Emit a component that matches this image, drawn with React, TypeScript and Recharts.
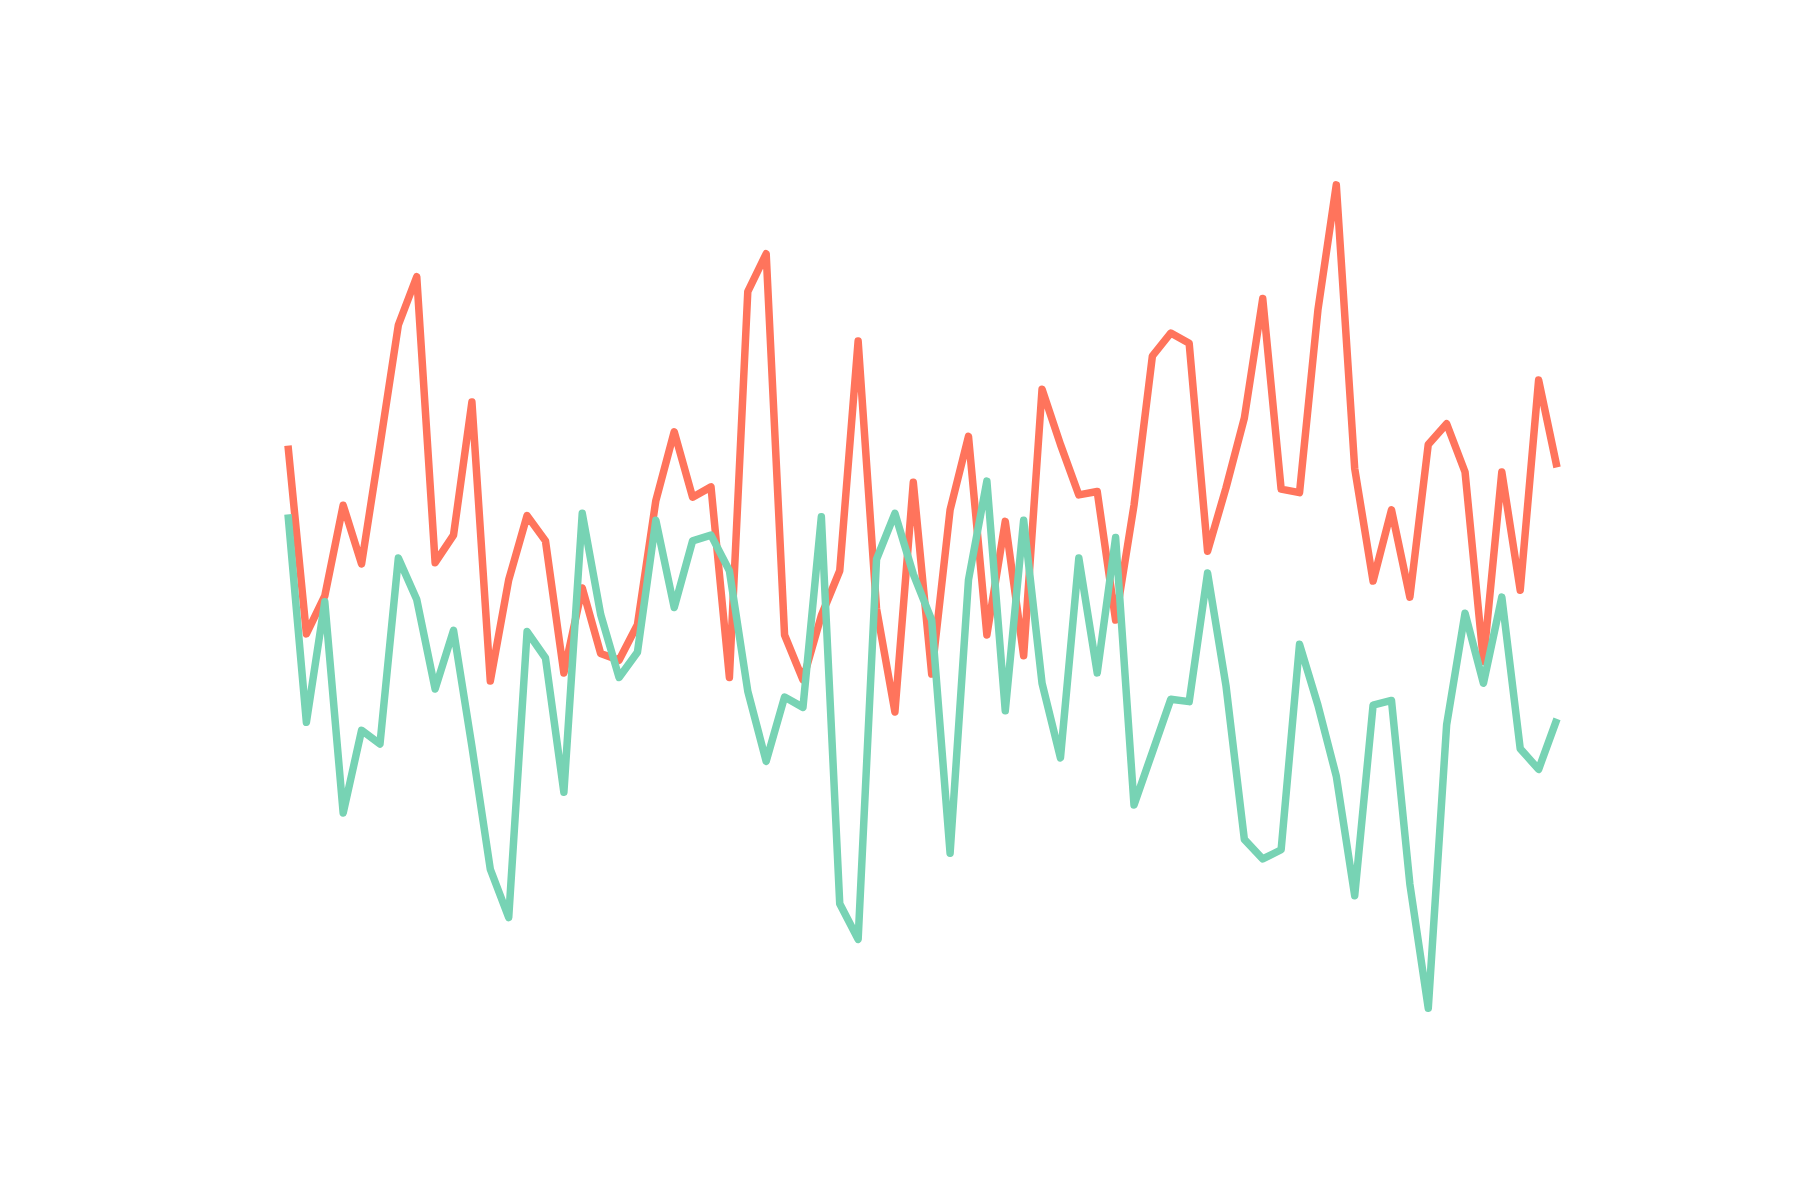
import React from "react";
import { LineChart, Line, XAxis, YAxis } from "recharts";

// two noisy series, 70 steps each
const steps: number[] = Array.from({ length: 70 }, (_, i) => i);

const seriesA: number[] = [
  6.57, 4.93, 5.26, 6.05, 5.54, 6.57, 7.62, 8.04, 5.55, 5.79,
  6.95, 4.52, 5.4, 5.96, 5.74, 4.59, 5.33, 4.76, 4.7, 5.01,
  6.09, 6.69, 6.12, 6.21, 4.55, 7.91, 8.24, 4.92, 4.53, 5.09,
  5.48, 7.48, 5.15, 4.25, 6.25, 4.58, 6.01, 6.65, 4.92, 5.91,
  4.74, 7.06, 6.58, 6.14, 6.17, 5.05, 6.05, 7.35, 7.55, 7.46,
  5.65, 6.2, 6.81, 7.85, 6.19, 6.16, 7.75, 8.84, 6.37, 5.39,
  6.01, 5.25, 6.58, 6.76, 6.34, 4.69, 6.34, 5.31, 7.14, 6.38,
];

const seriesB: number[] = [
  5.97, 4.16, 5.21, 3.37, 4.09, 3.97, 5.59, 5.23, 4.45, 4.96,
  3.95, 2.88, 2.46, 4.95, 4.72, 3.55, 5.98, 5.1, 4.55, 4.77,
  5.92, 5.16, 5.74, 5.79, 5.48, 4.43, 3.82, 4.38, 4.29, 5.95,
  2.58, 2.27, 5.58, 5.98, 5.45, 5.05, 3.02, 5.4, 6.26, 4.26,
  5.92, 4.5, 3.85, 5.59, 4.59, 5.77, 3.44, 3.9, 4.36, 4.34,
  5.46, 4.48, 3.14, 2.97, 3.05, 4.84, 4.31, 3.69, 2.65, 4.31,
  4.35, 2.75, 1.67, 4.14, 5.11, 4.5, 5.25, 3.93, 3.75, 4.19,
];

const data = steps.map((s, i) => ({ step: s, a: seriesA[i], b: seriesB[i] }));

export default function App() {
  return (
    <div
      style={{
        position: "absolute",
        left: 0,
        top: 0,
        width: 1800,
        height: 1200,
        background: "#ffffff",
      }}
    >
      <LineChart
        width={1800}
        height={1200}
        data={data}
        margin={{ top: 0, right: 243, bottom: 0, left: 288 }}
      >
        <XAxis dataKey="step" type="number" domain={[0, 69]} hide />
        <YAxis type="number" domain={[0, 10.45]} allowDataOverflow hide />
        <Line
          type="linear"
          dataKey="a"
          stroke="#ff745c"
          strokeWidth={7.5}
          strokeLinejoin="round"
          strokeLinecap="butt"
          dot={false}
          isAnimationActive={false}
        />
        <Line
          type="linear"
          dataKey="b"
          stroke="#77d3b4"
          strokeWidth={7.5}
          strokeLinejoin="round"
          strokeLinecap="butt"
          dot={false}
          isAnimationActive={false}
        />
      </LineChart>
    </div>
  );
}
